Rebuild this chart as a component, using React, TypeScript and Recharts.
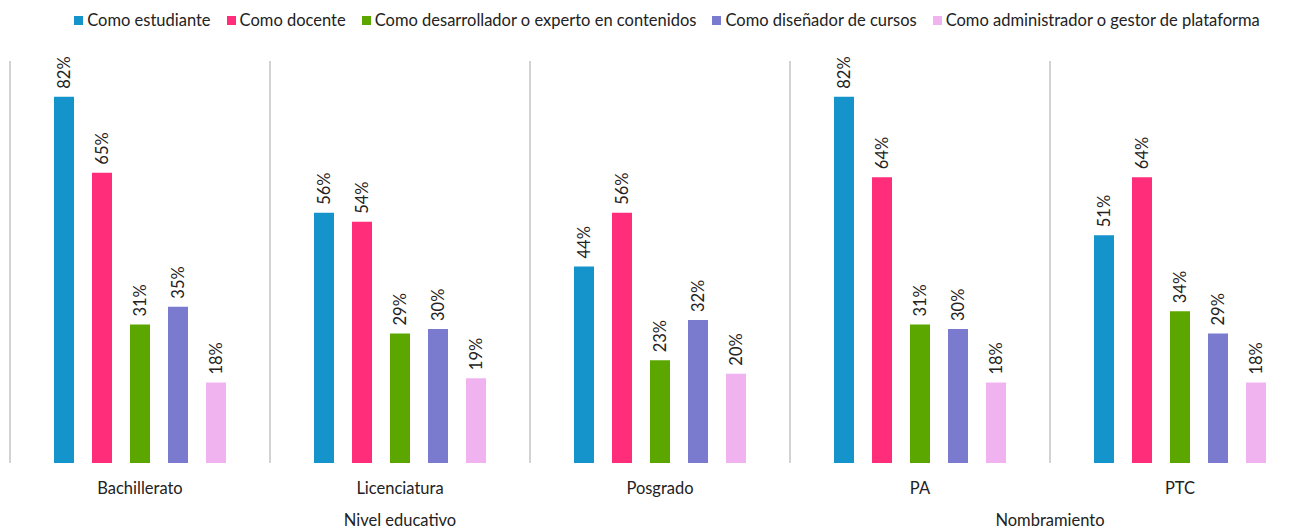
import React from 'react';
import { BarChart, Bar, XAxis, YAxis, CartesianGrid, Legend, LabelList } from 'recharts';

const categories = ['Bachillerato', 'Licenciatura', 'Posgrado', 'PA', 'PTC'];
const seriesNames = [
  'Como estudiante',
  'Como docente',
  'Como desarrollador o experto en contenidos',
  'Como diseñador de cursos',
  'Como administrador o gestor de plataforma',
];
const estudiante = [82, 56, 44, 82, 51];
const docente = [65, 54, 56, 64, 64];
const desarrollador = [31, 29, 23, 31, 34];
const disenador = [35, 30, 32, 30, 29];
const administrador = [18, 19, 20, 18, 18];
const groups = [
  { name: 'Nivel educativo', from: 0, to: 3 },
  { name: 'Nombramiento', from: 3, to: 5 },
];

const COLORS = ['#1593CB', '#FF2D7A', '#5BA700', '#7A7ACE', '#F1B3EF'];
const KEYS = ['s0', 's1', 's2', 's3', 's4'];
const seriesValues = [estudiante, docente, desarrollador, disenador, administrador];

const data = categories.map((name, i) => {
  const row: { [key: string]: string | number } = { name };
  KEYS.forEach((k, s) => {
    row[k] = seriesValues[s][i];
  });
  return row;
});

const FONT = 'Lato, "Open Sans", sans-serif';
const FS = 16.5;
const CHART_W = 1311;
const CHART_H = 529;
const MARGIN = { top: 10, right: 1, bottom: 36, left: 10 };
const PLOT_W = CHART_W - MARGIN.left - MARGIN.right;

const renderLabel = (props: any) => {
  const { x, y, width, value } = props;
  const cx = x + width / 2;
  const cy = y - 8;
  return (
    <text
      x={cx}
      y={cy}
      transform={`rotate(-90 ${cx} ${cy})`}
      textAnchor="start"
      dominantBaseline="central"
      fontSize={FS}
      fontFamily={FONT}
      fill="#222"
    >
      {`${value}%`}
    </text>
  );
};

const renderLegend = () => (
  <div
    style={{
      display: 'flex',
      justifyContent: 'center',
      fontFamily: FONT,
      fontSize: FS,
      color: '#222',
      paddingLeft: 14,
    }}
  >
    {seriesNames.map((n, i) => (
      <div key={n} style={{ display: 'flex', alignItems: 'center', marginRight: i < seriesNames.length - 1 ? 16 : 0 }}>
        <span style={{ display: 'inline-block', width: 9, height: 9, background: COLORS[i], marginRight: 4 }} />
        <span>{n}</span>
      </div>
    ))}
  </div>
);

const App: React.FC = () => {
  const catW = PLOT_W / categories.length;
  return (
    <div style={{ position: 'absolute', left: 0, top: 0, width: 1301, height: 529, overflow: 'hidden', background: '#fff' }}>
      <BarChart width={CHART_W} height={CHART_H} data={data} margin={MARGIN} barSize={20} barGap={18}>
        <CartesianGrid
          horizontal={false}
          stroke="#c4c4c4"
          strokeWidth={1.5}
          verticalCoordinatesGenerator={({ offset }: any) =>
            categories.map((_, i) => offset.left + (i * offset.width) / categories.length)
          }
        />
        <XAxis
          dataKey="name"
          axisLine={false}
          tickLine={false}
          tickMargin={13}
          height={30}
          tick={{ fontSize: FS, fontFamily: FONT, fill: '#222' }}
        />
        <YAxis hide domain={[0, 90]} />
        <Legend verticalAlign="top" height={51} content={renderLegend} />
        {KEYS.map((k, i) => (
          <Bar key={k} dataKey={k} name={seriesNames[i]} fill={COLORS[i]} isAnimationActive={false}>
            <LabelList dataKey={k} content={renderLabel} />
          </Bar>
        ))}
      </BarChart>
      {groups.map((g) => (
        <div
          key={g.name}
          style={{
            position: 'absolute',
            left: MARGIN.left + g.from * catW,
            width: (g.to - g.from) * catW,
            top: 510,
            textAlign: 'center',
            fontFamily: FONT,
            fontSize: FS,
            color: '#222',
            lineHeight: '20px',
          }}
        >
          {g.name}
        </div>
      ))}
    </div>
  );
};

export default App;
